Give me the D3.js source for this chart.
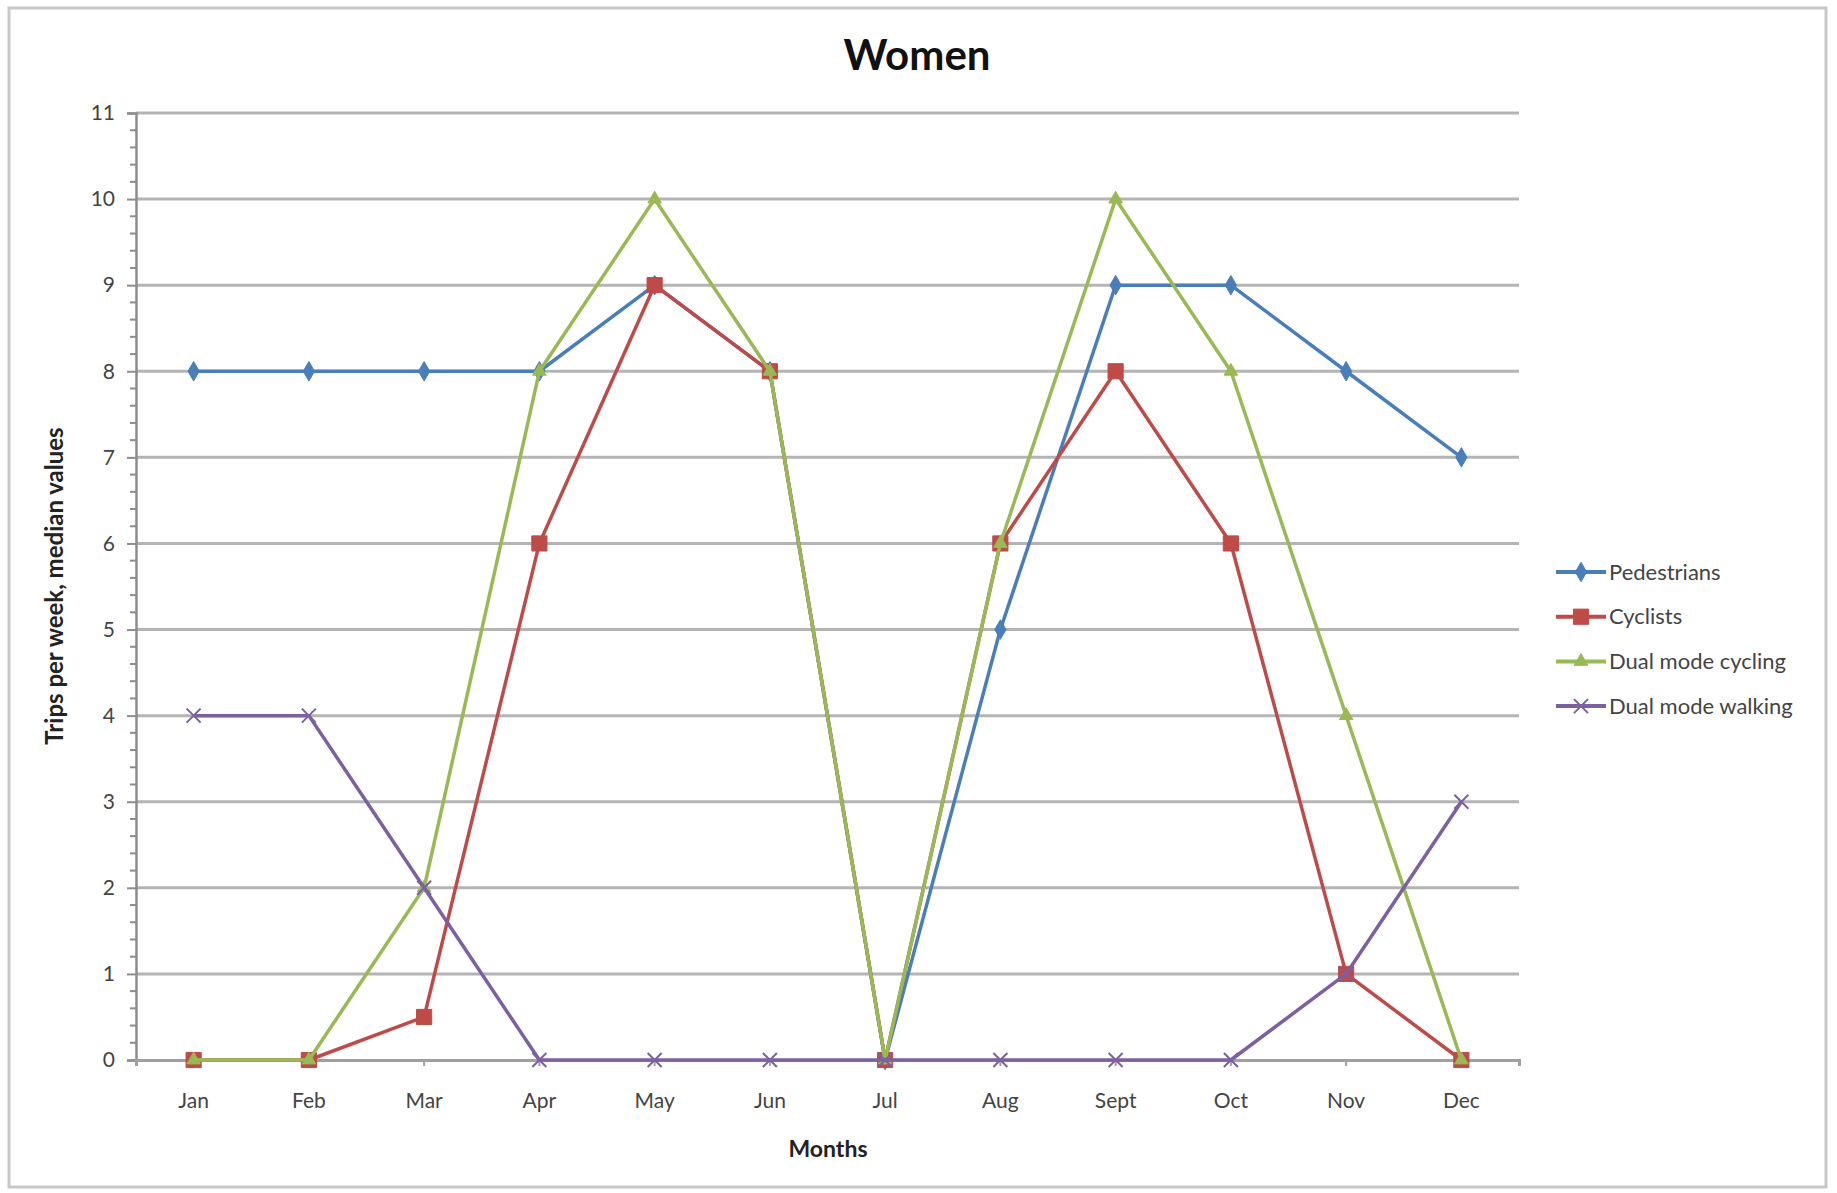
<!DOCTYPE html>
<html>
<head>
<meta charset="utf-8">
<script src="https://cdn.jsdelivr.net/npm/d3@7"></script>
<style>
  html, body { margin: 0; padding: 0; background: #fff; }
  svg { display: block; }
  text { font-family: Lato, "Open Sans", sans-serif; fill: #444; }
</style>
</head>
<body>
<svg id="chart" width="1837" height="1193"></svg>
<script>
// Trips per week (median) by month, women
const months = ["Jan", "Feb", "Mar", "Apr", "May", "Jun", "Jul", "Aug", "Sept", "Oct", "Nov", "Dec"];
const pedestrians      = [8, 8, 8, 8, 9, 8, 0, 5, 9, 9, 8, 7];
const cyclists         = [0, 0, 0.5, 6, 9, 8, 0, 6, 8, 6, 1, 0];
const dualModeCycling  = [0, 0, 2, 8, 10, 8, 0, 6, 10, 8, 4, 0];
const dualModeWalking  = [4, 4, 2, 0, 0, 0, 0, 0, 0, 0, 1, 3];
const yTicks = [0, 1, 2, 3, 4, 5, 6, 7, 8, 9, 10, 11];

const series = [
  { name: "Pedestrians",       values: pedestrians,     color: "#4a7ebb", marker: "diamond" },
  { name: "Cyclists",          values: cyclists,        color: "#be4b48", marker: "square" },
  { name: "Dual mode cycling", values: dualModeCycling, color: "#98b954", marker: "triangle" },
  { name: "Dual mode walking", values: dualModeWalking, color: "#7d60a0", marker: "cross" }
];

const svg = d3.select("#chart");

// chart frame
svg.append("rect")
  .attr("x", 9).attr("y", 8).attr("width", 1817).attr("height", 1179)
  .attr("fill", "#fff").attr("stroke", "#c8c8c8").attr("stroke-width", 3);

const plot = { left: 136, right: 1519, top: 113, bottom: 1060 };

const x = d3.scaleBand().domain(months).range([plot.left, plot.right]).padding(0);
const y = d3.scaleLinear().domain([0, 11]).range([plot.bottom, plot.top]);
const cx = m => x(m) + x.bandwidth() / 2;

// horizontal gridlines
svg.append("g")
  .selectAll("line").data(yTicks.filter(d => d > 0)).join("line")
  .attr("x1", plot.left).attr("x2", plot.right)
  .attr("y1", d => y(d)).attr("y2", d => y(d))
  .attr("stroke", "#b4b4b4").attr("stroke-width", 3);

// y axis: major ticks + minor ticks every 0.2
const yAxis = d3.axisLeft(y).tickValues(yTicks).tickFormat(d3.format("d")).tickSize(9).tickPadding(12);
const gy = svg.append("g").attr("transform", `translate(${plot.left},0)`).call(yAxis);
gy.select(".domain").attr("stroke", "#8c8c8c").attr("stroke-width", 2.5);
gy.selectAll(".tick line").attr("stroke", "#8c8c8c").attr("stroke-width", 2);
gy.selectAll(".tick text").attr("font-size", 21).attr("fill", "#444")
  .attr("font-family", "Lato, sans-serif");

const minor = d3.range(0, 11, 0.2).filter(v => Math.abs(v - Math.round(v)) > 1e-6);
svg.append("g").selectAll("line").data(minor).join("line")
  .attr("x1", plot.left - 6).attr("x2", plot.left)
  .attr("y1", d => y(d)).attr("y2", d => y(d))
  .attr("stroke", "#8c8c8c").attr("stroke-width", 2);

// x axis
const xAxis = d3.axisBottom(x).tickSize(6).tickPadding(27);
const gx = svg.append("g").attr("transform", `translate(0,${plot.bottom})`).call(xAxis);
gx.select(".domain").attr("stroke", "#a0a0a0").attr("stroke-width", 3);
gx.selectAll(".tick line").attr("stroke", "#a0a0a0").attr("stroke-width", 2);
gx.selectAll(".tick text").attr("font-size", 21).attr("fill", "#444")
  .attr("font-family", "Lato, sans-serif");

// markers
const symbolFor = {
  diamond:  d3.symbol().type(d3.symbolDiamond).size(110),
  square:   d3.symbol().type(d3.symbolSquare).size(230),
  triangle: d3.symbol().type(d3.symbolTriangle).size(80)
};
function drawMarker(g, kind, color, px, py) {
  if (kind === "cross") {
    const s = 7;
    g.append("path")
      .attr("d", `M${px - s},${py - s}L${px + s},${py + s}M${px - s},${py + s}L${px + s},${py - s}`)
      .attr("stroke", color).attr("stroke-width", 2).attr("fill", "none");
  } else {
    g.append("path")
      .attr("d", symbolFor[kind]())
      .attr("transform", `translate(${px},${py})`)
      .attr("fill", color).attr("stroke", color).attr("stroke-width", 1);
  }
}

const line = d3.line().x((d, i) => cx(months[i])).y(d => y(d));

series.forEach(s => {
  const g = svg.append("g");
  g.append("path").datum(s.values)
    .attr("d", line).attr("fill", "none")
    .attr("stroke", s.color).attr("stroke-width", 3.5)
    .attr("stroke-linejoin", "round");
  s.values.forEach((v, i) => drawMarker(g, s.marker, s.color, cx(months[i]), y(v)));
});

// title
svg.append("text")
  .attr("x", 917).attr("y", 70).attr("text-anchor", "middle")
  .attr("font-size", 42).attr("font-weight", 700).style("fill", "#111")
  .text("Women");

// axis titles
svg.append("text")
  .attr("x", 828).attr("y", 1157).attr("text-anchor", "middle")
  .attr("font-size", 23).attr("font-weight", 700).style("fill", "#222")
  .text("Months");

svg.append("text")
  .attr("transform", "translate(63,586) rotate(-90)")
  .attr("text-anchor", "middle")
  .attr("font-size", 24).attr("font-weight", 700).style("fill", "#222")
  .text("Trips per week, median values");

// legend
const legend = svg.append("g");
series.forEach((s, i) => {
  const ly = 572 + i * 44.7;
  legend.append("line")
    .attr("x1", 1556).attr("x2", 1606).attr("y1", ly).attr("y2", ly)
    .attr("stroke", s.color).attr("stroke-width", 4);
  drawMarker(legend, s.marker, s.color, 1581, ly);
  legend.append("text")
    .attr("x", 1609).attr("y", ly).attr("dy", "0.35em")
    .attr("font-size", 22).style("fill", "#444")
    .text(s.name);
});
</script>
</body>
</html>
